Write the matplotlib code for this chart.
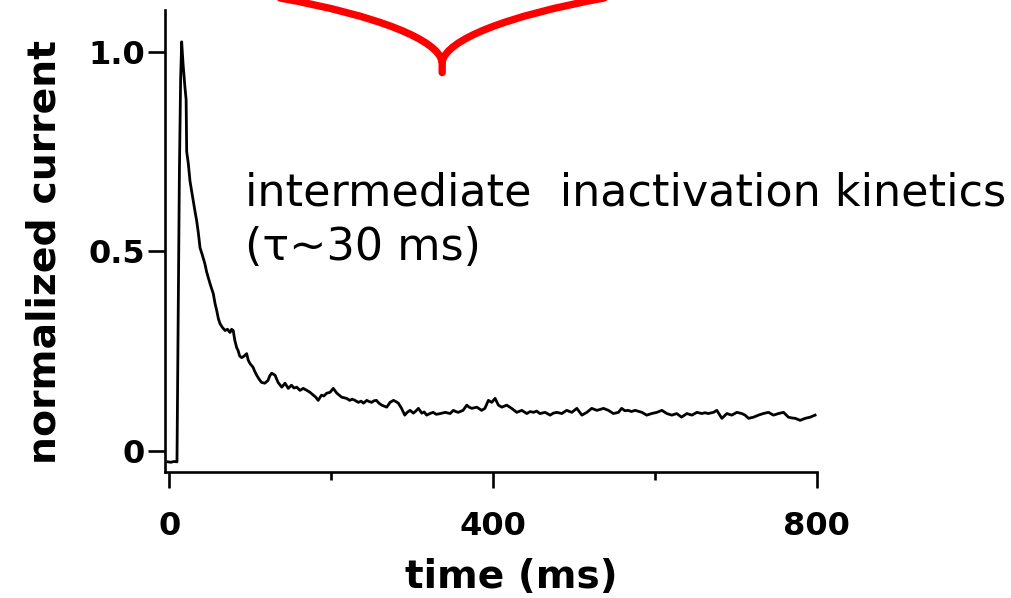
import matplotlib
matplotlib.use("Agg")
import matplotlib.pyplot as plt
from matplotlib.ticker import FixedLocator
from matplotlib.path import Path
from matplotlib.patches import PathPatch

# ---- data ----
time_ms = [-1.6, 2, 6, 9.5, 10.8, 12.5, 14, 15.3, 17, 19.4,
           20.8, 21.5, 23.5, 25.6, 27.7, 29.7, 31.8, 33.9, 36, 38,
           41, 44, 46, 48.2, 51, 54.4, 56.5, 58.6, 60.6, 62.7,
           65.5, 68.9, 72, 75, 77, 79, 81, 83.3, 85, 87,
           89.5, 92.5, 95.6, 97.5, 99.8, 103.5, 105.5, 108, 111, 114,
           118, 122, 124, 126.5, 130.7, 134.4, 139, 143, 147, 151,
           154, 157.5, 161.5, 165.5, 170, 174, 178, 181, 184, 188,
           191, 194.5, 198.6, 202.6, 207, 210, 213, 219, 223, 226,
           229.5, 233.6, 237, 240, 244, 247, 250, 253, 256, 259,
           262.5, 268.7, 272.8, 277, 280, 283, 287, 291, 294, 297.5,
           301.6, 304.5, 307.8, 312, 315, 318, 322, 326, 330, 335,
           341, 347, 351, 354, 357, 363, 367.6, 370.5, 373.8, 380,
           386, 390, 394.3, 398.5, 402.6, 406.7, 410.9, 417, 423, 429.4,
           435.6, 441.8, 446, 450, 454, 458, 464.4, 470.6, 474.5, 478.9,
           485, 491, 497.4, 503.6, 509.8, 516, 522, 528.3, 532, 536.5,
           542.6, 548.8, 555, 559, 563, 567, 571, 575.7, 584, 590,
           596, 602.5, 608.7, 614.8, 621, 627, 633, 639.6, 645.7, 652,
           658, 662, 666, 672.4, 676.6, 682.8, 689, 695, 701.4, 707.5,
           711.5, 715.7, 722, 728, 734, 740.4, 746.6, 752.8, 759, 765,
           769, 773.4, 779.6, 785.8, 792, 798]
current = [-0.027, -0.028, -0.026, -0.027, 0.30, 0.70, 0.93, 1.025, 0.97, 0.91,
           0.88, 0.75, 0.72, 0.676, 0.65, 0.626, 0.60, 0.576, 0.545, 0.509,
           0.49, 0.469, 0.45, 0.434, 0.415, 0.394, 0.37, 0.352, 0.332, 0.319,
           0.31, 0.302, 0.305, 0.297, 0.305, 0.302, 0.277, 0.259, 0.252, 0.238,
           0.234, 0.238, 0.244, 0.228, 0.219, 0.21, 0.20, 0.19, 0.18, 0.172,
           0.17, 0.177, 0.188, 0.195, 0.19, 0.172, 0.16, 0.17, 0.157, 0.165,
           0.158, 0.16, 0.152, 0.157, 0.152, 0.147, 0.14, 0.135, 0.127, 0.14,
           0.138, 0.145, 0.147, 0.157, 0.145, 0.14, 0.135, 0.132, 0.127, 0.13,
           0.127, 0.122, 0.125, 0.12, 0.127, 0.124, 0.122, 0.126, 0.127, 0.12,
           0.115, 0.11, 0.122, 0.127, 0.124, 0.12, 0.107, 0.09, 0.097, 0.102,
           0.095, 0.10, 0.107, 0.095, 0.098, 0.09, 0.094, 0.097, 0.092, 0.094,
           0.097, 0.094, 0.102, 0.099, 0.097, 0.102, 0.115, 0.11, 0.107, 0.11,
           0.102, 0.107, 0.127, 0.122, 0.132, 0.115, 0.11, 0.115, 0.107, 0.097,
           0.102, 0.094, 0.099, 0.097, 0.10, 0.094, 0.097, 0.09, 0.095, 0.097,
           0.094, 0.102, 0.097, 0.107, 0.09, 0.097, 0.107, 0.102, 0.104, 0.107,
           0.102, 0.094, 0.097, 0.107, 0.101, 0.102, 0.099, 0.102, 0.097, 0.09,
           0.094, 0.097, 0.102, 0.094, 0.09, 0.094, 0.085, 0.094, 0.09, 0.097,
           0.094, 0.096, 0.094, 0.097, 0.102, 0.082, 0.094, 0.09, 0.097, 0.094,
           0.09, 0.082, 0.085, 0.09, 0.094, 0.097, 0.09, 0.094, 0.097, 0.085,
           0.083, 0.082, 0.077, 0.082, 0.085, 0.09]

# red curly-brace decoration (Bezier control points, data coordinates)
brace_t = [137.0, 258.0, 332.1, 337.2, 337.2, 337.2, 342.3, 416.4, 537.4]
brace_v = [1.1347, 1.0900, 1.03, 0.975, 0.948, 0.975, 1.03, 1.0900, 1.1347]

y_ticks = [0, 0.5, 1.0]
y_tick_labels = ["0", "0.5", "1.0"]
x_major = [0, 400, 800]
x_major_labels = ["0", "400", "800"]
x_minor = [200, 600]

W, H = 1012, 598
fig = plt.figure(figsize=(W / 100, H / 100), dpi=100)
ax = fig.add_axes([165 / W, 1 - 472 / H, (816.7 - 165) / W, (472 - 10) / H])
ax.set_xlim(-5.3, 800)
ax.set_ylim(-0.0524, 1.1047)

ax.plot(time_ms, current, color="black", lw=2.0, solid_joinstyle="round")

bp = list(zip(brace_t, brace_v))
codes = [Path.MOVETO, Path.CURVE4, Path.CURVE4, Path.CURVE4, Path.LINETO,
         Path.MOVETO, Path.CURVE4, Path.CURVE4, Path.CURVE4]
brace = PathPatch(Path(bp, codes), facecolor="none", edgecolor="#ff0000",
                  lw=5.3, capstyle="round", joinstyle="round", clip_on=False)
ax.add_patch(brace)

for s in ("top", "right"):
    ax.spines[s].set_visible(False)
for s in ("left", "bottom"):
    ax.spines[s].set_linewidth(1.9)

bold = dict(family="DejaVu Sans", weight="bold")
ax.set_yticks(y_ticks)
ax.set_yticklabels(y_tick_labels, **bold)
ax.xaxis.set_major_locator(FixedLocator(x_major))
ax.set_xticklabels(x_major_labels, **bold)
ax.xaxis.set_minor_locator(FixedLocator(x_minor))
ax.tick_params(axis="y", which="major", length=12.5, width=1.9, pad=2, labelsize=22)
ax.tick_params(axis="x", which="major", length=11.5, width=1.9, pad=16.5, labelsize=22)
ax.tick_params(axis="x", which="minor", length=6, width=1.9)

ylab = fig.text(45 / W, 1 - 252 / H, "normalized current", rotation=90,
                ha="center", va="center", fontsize=27, **bold)
xlab = fig.text(511 / W, 1 - 588 / H, "time (ms)", ha="center", va="baseline",
                fontsize=27, **bold)
t1 = fig.text(245 / W, 1 - 205 / H, "intermediate  inactivation kinetics",
              ha="left", va="baseline", fontsize=26, family="DejaVu Sans")
t2 = fig.text(245 / W, 1 - 260 / H, "(\u03c4~30 ms)",
              ha="left", va="baseline", fontsize=26, family="DejaVu Sans")

# fit text sizes to the measured widths in the reference
fig.canvas.draw()
def fit(txt, target, use_h=False):
    bb = txt.get_window_extent()
    cur = bb.height if use_h else bb.width
    txt.set_fontsize(txt.get_fontsize() * target / cur)

fit(ylab, 425, use_h=True)
fit(xlab, 213)
fit(t1, 760)
t2.set_fontsize(t1.get_fontsize())
lab400 = ax.get_xticklabels()[1]
ts = 22 * 67 / lab400.get_window_extent().width
ax.tick_params(axis="both", labelsize=ts)

fig.savefig("out.png", dpi=100)
